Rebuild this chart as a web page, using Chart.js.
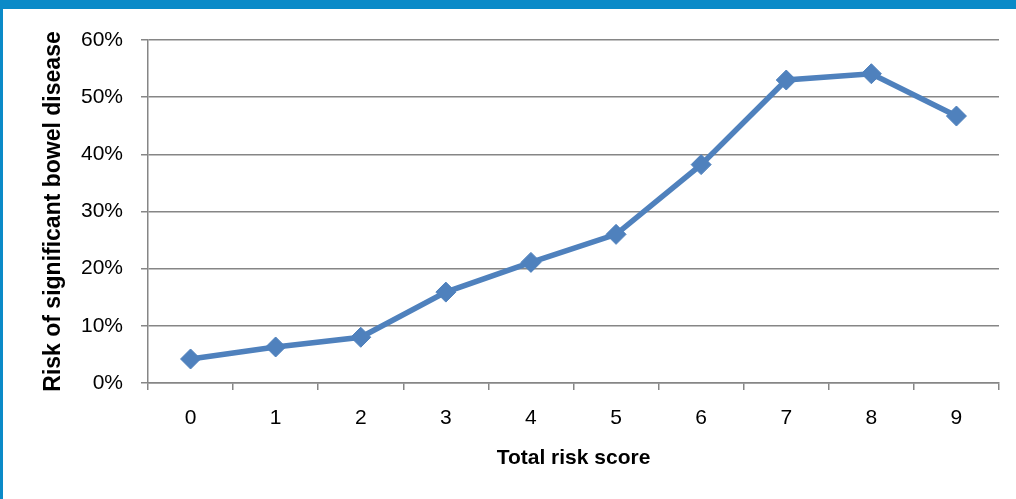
<!DOCTYPE html>
<html>
<head>
<meta charset="utf-8">
<script src="https://cdn.jsdelivr.net/npm/chart.js@4/dist/chart.umd.min.js"></script>
<style>
  html, body { margin: 0; padding: 0; background: #ffffff; }
  #wrap { position: relative; width: 1016px; height: 499px; }
  canvas { display: block; }
</style>
</head>
<body>
<div id="wrap"><canvas id="c" width="1016" height="499"></canvas></div>
<script>
const categories = ['0', '1', '2', '3', '4', '5', '6', '7', '8', '9'];
const riskValues = [4.2, 6.3, 8.0, 15.9, 21.1, 26.0, 38.2, 53.0, 54.1, 46.7];
const yTickValues = [0, 10, 20, 30, 40, 50, 60];
const xTitle = 'Total risk score';
const yTitle = 'Risk of significant bowel disease';

const gridColor = '#868686';
const lineColor = '#4F81BD';
const fontFamily = '"Liberation Sans", Arial, sans-serif';

const frame = {
  id: 'frame',
  beforeDraw(chart) {
    const ctx = chart.ctx;
    ctx.save();
    ctx.fillStyle = '#ffffff';
    ctx.fillRect(0, 0, chart.width, chart.height);
    ctx.fillStyle = '#0A8AC8';
    ctx.fillRect(0, 0, chart.width, 9);
    ctx.fillRect(0, 0, 3, chart.height);
    ctx.restore();
  }
};

new Chart(document.getElementById('c'), {
  type: 'line',
  data: {
    labels: categories,
    datasets: [{
      data: riskValues,
      borderColor: lineColor,
      backgroundColor: lineColor,
      borderWidth: 5.5,
      pointStyle: 'rectRot',
      pointRadius: 10,
      pointHoverRadius: 10,
      pointBackgroundColor: lineColor,
      pointBorderColor: lineColor,
      pointBorderWidth: 1,
      tension: 0,
      fill: false
    }]
  },
  options: {
    responsive: false,
    animation: false,
    devicePixelRatio: 1,
    layout: { padding: { left: 0, top: 40, right: 17, bottom: 0 } },
    plugins: { legend: { display: false }, tooltip: { enabled: false } },
    scales: {
      x: {
        offset: true,
        grid: {
          display: true,
          offset: true,
          drawOnChartArea: false,
          drawTicks: true,
          tickLength: 7,
          color: gridColor,
          lineWidth: 1.5
        },
        border: { display: true, color: gridColor, width: 1.5 },
        ticks: {
          color: '#000000',
          font: { family: fontFamily, size: 21 },
          padding: 16,
          maxRotation: 0
        },
        title: {
          display: true,
          text: xTitle,
          color: '#000000',
          font: { family: fontFamily, size: 21, weight: 'bold' },
          padding: { top: 8, bottom: 28 }
        },
        afterFit(scale) { scale.height = 116; }
      },
      y: {
        min: 0,
        max: 60,
        afterBuildTicks(scale) { scale.ticks = yTickValues.map(v => ({ value: v })); },
        grid: {
          display: true,
          drawTicks: true,
          tickLength: 7,
          color: gridColor,
          lineWidth: 1.5
        },
        border: { display: true, color: gridColor, width: 1.5 },
        ticks: {
          color: '#000000',
          font: { family: fontFamily, size: 21 },
          padding: 18,
          callback: v => v + '%'
        },
        title: {
          display: true,
          text: yTitle,
          color: '#000000',
          font: { family: fontFamily, size: 23, weight: 'bold' },
          padding: { top: 40, bottom: 0 }
        },
        afterFit(scale) { scale.width = 148; }
      }
    }
  },
  plugins: [frame]
});
</script>
</body>
</html>
